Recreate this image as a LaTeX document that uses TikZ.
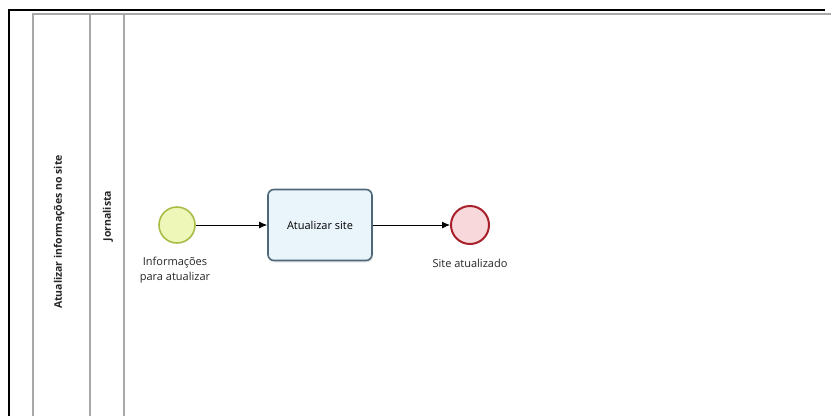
\documentclass[tikz,border=0pt]{standalone}
\usepackage{fontspec}
\setmainfont{Open Sans}
\usetikzlibrary{arrows.meta,shadows}
\definecolor{poolgray}{HTML}{A8A8A8}
\definecolor{startfill}{HTML}{EEF6B8}
\definecolor{startline}{HTML}{A6BE48}
\definecolor{endfill}{HTML}{F8D8DA}
\definecolor{endline}{HTML}{A8202C}
\definecolor{taskfill}{HTML}{EAF4FB}
\definecolor{taskline}{HTML}{4E6878}
\tikzset{lane/.style={draw=poolgray, line width=1.4pt}}
\tikzset{lanetext/.style={rotate=90, font=\bfseries\fontsize{10.5}{12}\selectfont, text=black!85}}
\tikzset{startev/.style={circle, draw=startline, fill=startfill, line width=1.6pt, minimum size=36pt, inner sep=0pt}}
\tikzset{endev/.style={circle, draw=endline, fill=endfill, line width=2pt, minimum size=38pt, inner sep=0pt}}
\tikzset{task/.style={rectangle, rounded corners=6pt, draw=taskline, fill=taskfill, line width=1.6pt, minimum width=104pt, minimum height=71pt, drop shadow={shadow xshift=1pt, shadow yshift=-2pt, opacity=0.15}, font=\fontsize{11}{13}\selectfont}}
\tikzset{evlabel/.style={align=center, font=\fontsize{11}{15.5}\selectfont, inner sep=0pt, text=black!85}}
\tikzset{flow/.style={-{Latex[length=8pt,width=7pt]}, line width=0.9pt}}

\begin{document}
\begin{tikzpicture}[x=1pt, y=-1pt]
  \useasboundingbox[fill=white] (0,0) rectangle (831,416);

  % pool and lane frame
  \draw[line width=2.4pt] (9,416) -- (9,10) -- (825,10);
  \draw[lane] (33,416) -- (33,14) -- (831,14);
  \draw[lane] (90,14) -- (90,416);
  \draw[lane] (124,14) -- (124,416);

  \node[lanetext] (pool) at (59,232) {Atualizar informações no site};
  \node[lanetext] (lane) at (108,216) {Jornalista};

  % flow elements
  \node[startev] (inicio) at (177,225) {};
  \node[task] (atualizar) at (320,225) {Atualizar site};
  \node[endev] (fim) at (470,225) {};

  \node[evlabel] (inicioLbl) at (175,270) {Informações\\para atualizar};
  \node[evlabel] (fimLbl) at (470,263) {Site atualizado};

  \draw[flow] (inicio) -- (atualizar);
  \draw[flow] (atualizar) -- (fim);
\end{tikzpicture}
\end{document}
